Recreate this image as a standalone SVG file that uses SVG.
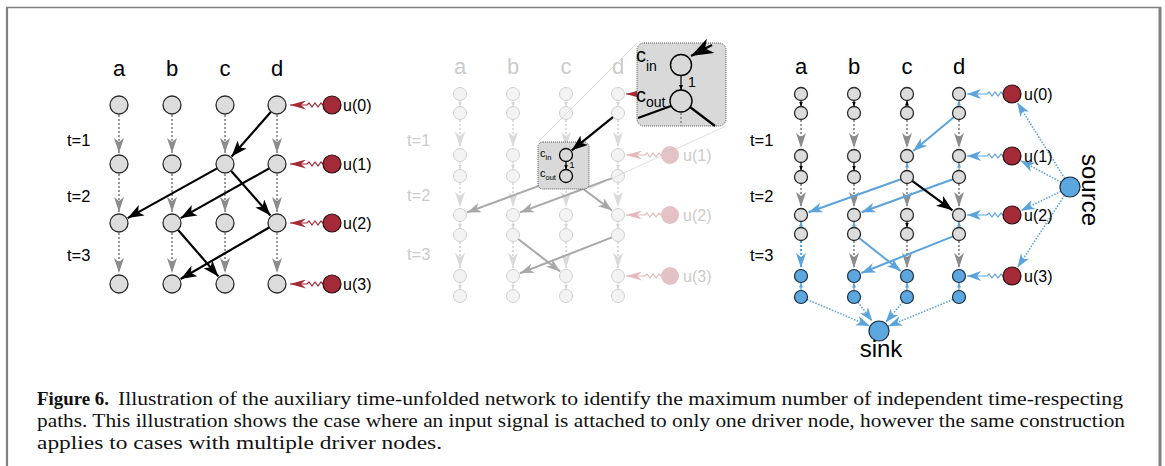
<svg xmlns="http://www.w3.org/2000/svg" width="1165" height="466" viewBox="0 0 1165 466">
<style>
.n{fill:#dcdcdc;stroke:#2b2b2b;stroke-width:1.3}
.nf{fill:#f3f3f3;stroke:#d0d0d0;stroke-width:1}
.nb{fill:#5ca7e0;stroke:#1d2f40;stroke-width:1.2}
.u{fill:#a52a37;stroke:#2a0f10;stroke-width:1.2}
.uf{fill:#e4c1c4;stroke:none}
.t{font-family:"Liberation Sans",Arial,sans-serif}
.col{font-size:22px;text-anchor:middle}
.tl{font-size:16.5px}
.ul{font-size:16px}
.fd{fill:#cbcbcb}
.dot{stroke:#9a9a9a;stroke-width:2;stroke-dasharray:2 2;fill:none}
.dotf{stroke:#dcdcdc;stroke-width:2;stroke-dasharray:2 2;fill:none}
.dotb{stroke:#5aa3dd;stroke-width:2;stroke-dasharray:2 2;fill:none}
.blk{stroke:#000;stroke-width:2.2;fill:none}
.gry{stroke:#a8a8a8;stroke-width:2;fill:none}
.blu{stroke:#5aa3dd;stroke-width:2;fill:none}
.bdot{stroke:#5aa3dd;stroke-width:1.6;stroke-dasharray:1.5 1.5;fill:none}
.wr{stroke:#a52a37;stroke-width:1.2;fill:none}
.wf{stroke:#e4b8bc;stroke-width:1.2;fill:none}
.wb{stroke:#5aa3dd;stroke-width:1.2;fill:none}
.tk{stroke:#000;stroke-width:1.2;fill:none}
.tb{stroke:#5aa3dd;stroke-width:1.2;fill:none}
.tg{stroke:#dcdcdc;stroke-width:1.2;fill:none}
.cap{font-family:"Liberation Serif","Times New Roman",serif;font-size:18px;fill:#111}
.box{fill:#d9d9d9;stroke:#555;stroke-width:1;stroke-dasharray:1 1}
</style>
<defs>
<marker id="mg" viewBox="0 0 15 10" refX="15" refY="5" markerWidth="15" markerHeight="10" markerUnits="userSpaceOnUse" orient="auto"><path d="M0,0 L15,5 L0,10 L4,5 z" fill="#8c8c8c"/></marker>
<marker id="mgf" viewBox="0 0 15 10" refX="15" refY="5" markerWidth="15" markerHeight="10" markerUnits="userSpaceOnUse" orient="auto"><path d="M0,0 L15,5 L0,10 L4,5 z" fill="#dadada"/></marker>
<marker id="mbc" viewBox="0 0 15 10" refX="15" refY="5" markerWidth="15" markerHeight="10" markerUnits="userSpaceOnUse" orient="auto"><path d="M0,0 L15,5 L0,10 L4,5 z" fill="#5aa3dd"/></marker>
<marker id="mk" viewBox="0 0 16 12" refX="16" refY="6" markerWidth="16" markerHeight="12" markerUnits="userSpaceOnUse" orient="auto"><path d="M0,0 L16,6 L0,12 L4,6 z" fill="#000"/></marker>
<marker id="mkb" viewBox="0 0 22 16" refX="22" refY="8" markerWidth="22" markerHeight="16" markerUnits="userSpaceOnUse" orient="auto"><path d="M0,0 L22,8 L0,16 L6,8 z" fill="#000"/></marker>
<marker id="mgs" viewBox="0 0 14 10" refX="14" refY="5" markerWidth="14" markerHeight="10" markerUnits="userSpaceOnUse" orient="auto"><path d="M0,0 L14,5 L0,10 L4,5 z" fill="#a8a8a8"/></marker>
<marker id="mb" viewBox="0 0 14 10" refX="14" refY="5" markerWidth="14" markerHeight="10" markerUnits="userSpaceOnUse" orient="auto"><path d="M0,0 L14,5 L0,10 L4,5 z" fill="#5aa3dd"/></marker>
<marker id="mr" viewBox="0 0 16 9" refX="16" refY="4.5" markerWidth="16" markerHeight="9" markerUnits="userSpaceOnUse" orient="auto"><path d="M0,0 L16,4.5 L0,9 L5,4.5 z" fill="#a52a37"/></marker>
<marker id="mrf" viewBox="0 0 16 9" refX="16" refY="4.5" markerWidth="16" markerHeight="9" markerUnits="userSpaceOnUse" orient="auto"><path d="M0,0 L16,4.5 L0,9 L5,4.5 z" fill="#e4b8bc"/></marker>
<marker id="mtk" viewBox="0 0 5 4" refX="5" refY="2" markerWidth="5" markerHeight="4" markerUnits="userSpaceOnUse" orient="auto"><path d="M0,0 L5,2 L0,4 z" fill="#000"/></marker>
<marker id="mtb" viewBox="0 0 5 4" refX="5" refY="2" markerWidth="5" markerHeight="4" markerUnits="userSpaceOnUse" orient="auto"><path d="M0,0 L5,2 L0,4 z" fill="#5aa3dd"/></marker>
<marker id="mtg" viewBox="0 0 5 4" refX="5" refY="2" markerWidth="5" markerHeight="4" markerUnits="userSpaceOnUse" orient="auto"><path d="M0,0 L5,2 L0,4 z" fill="#d6d6d6"/></marker>
</defs>
<rect width="1165" height="466" fill="#fff"/>
<g id="frame" fill="none" stroke="#808080">
<line x1="6" y1="7.5" x2="1161" y2="7.5" stroke-width="1.4"/>
<line x1="7" y1="7" x2="7" y2="466" stroke-width="2.2"/>
<line x1="1160" y1="7" x2="1160" y2="466" stroke-width="3"/>
</g>

<!-- ============ LEFT PANEL ============ -->
<g id="left-labels" class="t">
<text class="col" x="119" y="76">a</text><text class="col" x="172" y="76">b</text><text class="col" x="225" y="76">c</text><text class="col" x="277" y="76">d</text>
<text class="tl" x="67" y="146">t=1</text><text class="tl" x="67" y="202">t=2</text><text class="tl" x="67" y="261">t=3</text>
</g>
<g id="left-connectors">
<g class="dot" marker-end="url(#mg)">
<path d="M119,115 V153"/><path d="M119,174 V212"/><path d="M119,233 V273"/>
<path d="M172,115 V153"/><path d="M172,174 V212"/><path d="M172,233 V273"/>
<path d="M225,115 V153"/><path d="M225,174 V212"/><path d="M225,233 V273"/>
<path d="M277,115 V153"/><path d="M277,174 V212"/><path d="M277,233 V273"/>
</g>
<g class="blk" marker-end="url(#mk)">
<path d="M271,111.8 L231.6,156.5"/>
<path d="M217.1,168.4 L127.7,218.1"/>
<path d="M269.2,168.4 L180.7,218.1"/>
<path d="M231,170.8 L270.4,215.5"/>
<path d="M177.9,229.8 L218.4,276.4"/>
<path d="M269.2,227.5 L180.6,279"/>
</g>
<g class="wr" marker-end="url(#mr)">
<path d="M323,105 l-2,-2 l-3,4 l-3,-4 l-3,4 l-3,-4 l-2,2 l-17,0"/>
<path d="M323,164 l-2,-2 l-3,4 l-3,-4 l-3,4 l-3,-4 l-2,2 l-17,0"/>
<path d="M323,223 l-2,-2 l-3,4 l-3,-4 l-3,4 l-3,-4 l-2,2 l-17,0"/>
<path d="M323,284 l-2,-2 l-3,4 l-3,-4 l-3,4 l-3,-4 l-2,2 l-17,0"/>
</g>
</g>
<g id="left-nodes" class="n">
<g id="L-a0"><circle cx="119" cy="105" r="9"/></g><g id="L-b0"><circle cx="172" cy="105" r="9"/></g><g id="L-c0"><circle cx="225" cy="105" r="9"/></g><g id="L-d0"><circle cx="277" cy="105" r="9"/></g>
<g id="L-a1"><circle cx="119" cy="164" r="9"/></g><g id="L-b1"><circle cx="172" cy="164" r="9"/></g><g id="L-c1"><circle cx="225" cy="164" r="9"/></g><g id="L-d1"><circle cx="277" cy="164" r="9"/></g>
<g id="L-a2"><circle cx="119" cy="223" r="9"/></g><g id="L-b2"><circle cx="172" cy="223" r="9"/></g><g id="L-c2"><circle cx="225" cy="223" r="9"/></g><g id="L-d2"><circle cx="277" cy="223" r="9"/></g>
<g id="L-a3"><circle cx="119" cy="284" r="9"/></g><g id="L-b3"><circle cx="172" cy="284" r="9"/></g><g id="L-c3"><circle cx="225" cy="284" r="9"/></g><g id="L-d3"><circle cx="277" cy="284" r="9"/></g>
</g>
<g id="left-inputs">
<g id="L-u0"><circle class="u" cx="332" cy="105" r="9"/><text class="t ul" x="343" y="111">u(0)</text></g>
<g id="L-u1"><circle class="u" cx="332" cy="164" r="9"/><text class="t ul" x="343" y="170">u(1)</text></g>
<g id="L-u2"><circle class="u" cx="332" cy="223" r="9"/><text class="t ul" x="343" y="229">u(2)</text></g>
<g id="L-u3"><circle class="u" cx="332" cy="284" r="9"/><text class="t ul" x="343" y="290">u(3)</text></g>
</g>

<!-- ============ MIDDLE PANEL ============ -->
<g id="mid-labels" class="t fd">
<text class="col" x="460" y="74">a</text><text class="col" x="513" y="74">b</text><text class="col" x="566" y="74">c</text><text class="col" x="618" y="74">d</text>
<text class="tl" x="407" y="146">t=1</text><text class="tl" x="407" y="201">t=2</text><text class="tl" x="407" y="260">t=3</text>
</g>
<g id="mid-connectors">
<g class="dotf" marker-end="url(#mgf)">
<path d="M460,120 V147"/><path d="M460,183 V207"/><path d="M460,242 V268"/>
<path d="M513,120 V147"/><path d="M513,183 V207"/><path d="M513,242 V268"/>
<path d="M566,120 V147"/><path d="M566,183 V207"/><path d="M566,242 V268"/>
<path d="M618,120 V147"/><path d="M618,183 V207"/><path d="M618,242 V268"/>
</g>
<g class="tg" marker-end="url(#mtg)">
<path d="M460,100.5 V106.5"/><path d="M513,100.5 V106.5"/><path d="M566,100.5 V106.5"/><path d="M618,100.5 V106.5"/>
<path d="M460,161.5 V169.5"/><path d="M513,161.5 V169.5"/><path d="M618,161.5 V169.5"/>
<path d="M460,221.5 V228.5"/><path d="M513,221.5 V228.5"/><path d="M566,221.5 V228.5"/><path d="M618,221.5 V228.5"/>
<path d="M460,282.5 V289.5"/><path d="M513,282.5 V289.5"/><path d="M566,282.5 V289.5"/><path d="M618,282.5 V289.5"/>
</g>
<g class="gry" marker-end="url(#mgs)">
<path d="M559.9,178.2 L467,212.4"/>
<path d="M611.9,178.3 L520,212.4"/>
<path d="M571.2,179.9 L612,210.5"/>
<path d="M518.1,239 L560.1,271.4"/>
<path d="M611.9,237.4 L520,273.3"/>
</g>
<g class="wf" marker-end="url(#mrf)">
<path d="M661,155 l-2,-2 l-3,4 l-3,-4 l-3,4 l-3,-4 l-2,2 l-19,0"/>
<path d="M661,215 l-2,-2 l-3,4 l-3,-4 l-3,4 l-3,-4 l-2,2 l-19,0"/>
<path d="M661,276 l-2,-2 l-3,4 l-3,-4 l-3,4 l-3,-4 l-2,2 l-19,0"/>
</g>
<path class="wr" marker-end="url(#mr)" d="M661,94 l-2,-2 l-3,4 l-3,-4 l-3,4 l-3,-4 l-2,2 l-19,0"/>
</g>
<g id="mid-nodes" class="nf">
<g id="M-a0"><circle cx="460" cy="94" r="6.5"/><circle cx="460" cy="113" r="6.5"/></g>
<g id="M-b0"><circle cx="513" cy="94" r="6.5"/><circle cx="513" cy="113" r="6.5"/></g>
<g id="M-c0"><circle cx="566" cy="94" r="6.5"/><circle cx="566" cy="113" r="6.5"/></g>
<g id="M-d0"><circle cx="618" cy="94" r="6.5"/><circle cx="618" cy="113" r="6.5"/></g>
<g id="M-a1"><circle cx="460" cy="155" r="6.5"/><circle cx="460" cy="176" r="6.5"/></g>
<g id="M-b1"><circle cx="513" cy="155" r="6.5"/><circle cx="513" cy="176" r="6.5"/></g>
<g id="M-d1"><circle cx="618" cy="155" r="6.5"/><circle cx="618" cy="176" r="6.5"/></g>
<g id="M-a2"><circle cx="460" cy="215" r="6.5"/><circle cx="460" cy="235" r="6.5"/></g>
<g id="M-b2"><circle cx="513" cy="215" r="6.5"/><circle cx="513" cy="235" r="6.5"/></g>
<g id="M-c2"><circle cx="566" cy="215" r="6.5"/><circle cx="566" cy="235" r="6.5"/></g>
<g id="M-d2"><circle cx="618" cy="215" r="6.5"/><circle cx="618" cy="235" r="6.5"/></g>
<g id="M-a3"><circle cx="460" cy="276" r="6.5"/><circle cx="460" cy="296" r="6.5"/></g>
<g id="M-b3"><circle cx="513" cy="276" r="6.5"/><circle cx="513" cy="296" r="6.5"/></g>
<g id="M-c3"><circle cx="566" cy="276" r="6.5"/><circle cx="566" cy="296" r="6.5"/></g>
<g id="M-d3"><circle cx="618" cy="276" r="6.5"/><circle cx="618" cy="296" r="6.5"/></g>
</g>
<g id="mid-inputs">
<g id="M-u1"><circle class="uf" cx="670" cy="155" r="9"/><text class="t ul fd" x="683" y="161">u(1)</text></g>
<g id="M-u2"><circle class="uf" cx="670" cy="215" r="9"/><text class="t ul fd" x="683" y="221">u(2)</text></g>
<g id="M-u3"><circle class="uf" cx="670" cy="276" r="9"/><text class="t ul fd" x="683" y="282">u(3)</text></g>
</g>
<g id="zoom-lines" stroke="#d0d0d0" stroke-width="0.7" fill="none">
<line x1="538" y1="142" x2="637" y2="43"/>
<line x1="589" y1="189" x2="726" y2="126"/>
</g>
<g id="M-c1-inset">
<rect class="box" x="538" y="142" width="51" height="47" rx="5"/>
<circle cx="566" cy="155" r="6.5" fill="none" stroke="#000" stroke-width="1.3"/>
<circle cx="566" cy="176" r="6.5" fill="none" stroke="#000" stroke-width="1.3"/>
<path class="tk" d="M566,161.5 V169.5" marker-end="url(#mtk)"/>
<text class="t" x="540" y="157" font-size="11">c<tspan font-size="7.5" dy="3">in</tspan></text>
<text class="t" x="540" y="177" font-size="11">c<tspan font-size="7.5" dy="3">out</tspan></text>
<text class="t" x="569.5" y="168" font-size="9">1</text>
</g>
<path id="M-d0-c1" class="blk" marker-end="url(#mk)" d="M612.9,117.1 L571.8,150.3"/>
<g id="big-inset">
<rect class="box" x="637" y="43" width="89" height="83" rx="7"/>
<path class="dot" d="M681,113 V126"/>
<path class="blk" d="M671,106 L638,118 M690,107 L715,126"/>
<path class="blk" d="M712,45 L691,56" marker-end="url(#mkb)"/>
<circle cx="681" cy="65" r="10.5" fill="none" stroke="#000" stroke-width="1.4"/>
<circle cx="681" cy="101" r="11" fill="none" stroke="#000" stroke-width="1.4"/>
<path class="tk" d="M681,75.5 V90" marker-end="url(#mtk)"/>
<text class="t" x="688" y="87" font-size="14">1</text>
<text class="t" x="636" y="62" font-size="20">c<tspan font-size="14" dy="9">in</tspan></text>
<text class="t" x="636" y="102" font-size="20">c<tspan font-size="14" dy="5">out</tspan></text>
</g>

<!-- ============ RIGHT PANEL ============ -->
<g id="right-labels" class="t">
<text class="col" x="801" y="74">a</text><text class="col" x="854" y="74">b</text><text class="col" x="907" y="74">c</text><text class="col" x="959" y="74">d</text>
<text class="tl" x="750" y="146">t=1</text><text class="tl" x="750" y="202">t=2</text><text class="tl" x="750" y="261">t=3</text>
</g>
<g id="right-connectors">
<g class="dot" marker-end="url(#mg)">
<path d="M801,120 V148"/><path d="M801,184 V207"/>
<path d="M854,120 V148"/><path d="M854,184 V207"/><path d="M854,241 V268"/>
<path d="M907,120 V148"/><path d="M907,184 V207"/><path d="M907,241 V268"/>
<path d="M959,120 V148"/><path d="M959,184 V207"/><path d="M959,241 V268"/>
</g>
<path class="dotb" marker-end="url(#mbc)" d="M801,241 V268"/>
<g class="tk" marker-end="url(#mtk)">
<path d="M801,100.5 V106.5"/><path d="M854,100.5 V106.5"/><path d="M907,106.5 V100.5"/>
<path d="M801,162.5 V170.5"/><path d="M854,162.5 V170.5"/>
<path d="M907,221.5 V227.5"/>
</g>
<g class="tb" marker-end="url(#mtb)">
<path d="M959,106.5 V100.5"/>
<path d="M907,170.5 V162.5"/><path d="M959,170.5 V162.5"/>
<path d="M801,227.5 V221.5"/><path d="M854,227.5 V221.5"/><path d="M959,227.5 V221.5"/>
<path d="M801,290.5 V282.5"/><path d="M854,290.5 V282.5"/><path d="M907,290.5 V282.5"/><path d="M959,290.5 V282.5"/>
</g>
<g class="blu" marker-end="url(#mb)">
<path d="M954,117.1 L913.2,150.9"/>
<path d="M900.9,179.2 L808.5,212.3"/>
<path d="M952.9,179.2 L861.5,212.3"/>
<path d="M859.1,238 L900.7,271"/>
<path d="M953,236.4 L861.4,273"/>
</g>
<path class="blk" marker-end="url(#mk)" d="M912.2,180.8 L952.5,210.3"/>
<g class="wb" marker-end="url(#mb)">
<path d="M1003,94 l-2,-2 l-3,4 l-3,-4 l-3,4 l-3,-4 l-2,2 l-20,0"/>
<path d="M1003,156 l-2,-2 l-3,4 l-3,-4 l-3,4 l-3,-4 l-2,2 l-20,0"/>
<path d="M1003,215 l-2,-2 l-3,4 l-3,-4 l-3,4 l-3,-4 l-2,2 l-20,0"/>
<path d="M1003,276 l-2,-2 l-3,4 l-3,-4 l-3,4 l-3,-4 l-2,2 l-20,0"/>
</g>
<g class="bdot" marker-end="url(#mb)">
<path d="M1064.7,178.5 L1017.3,102.5"/>
<path d="M1061.2,182.3 L1020.8,160.7"/>
<path d="M1061,191.3 L1021,210.6"/>
<path d="M1064.5,195.4 L1017.5,267.6"/>
<path d="M807,299.5 L869.8,326.1"/>
<path d="M857.9,302.2 L872.4,321.3"/>
<path d="M902.8,302 L885.5,322.4"/>
<path d="M953,299.5 L888.2,326.2"/>
</g>
</g>
<g id="right-nodes">
<g id="R-a0" class="n"><circle cx="801" cy="94" r="6.5"/><circle cx="801" cy="113" r="6.5"/></g>
<g id="R-b0" class="n"><circle cx="854" cy="94" r="6.5"/><circle cx="854" cy="113" r="6.5"/></g>
<g id="R-c0" class="n"><circle cx="907" cy="94" r="6.5"/><circle cx="907" cy="113" r="6.5"/></g>
<g id="R-d0" class="n"><circle cx="959" cy="94" r="6.5"/><circle cx="959" cy="113" r="6.5"/></g>
<g id="R-a1" class="n"><circle cx="801" cy="156" r="6.5"/><circle cx="801" cy="177" r="6.5"/></g>
<g id="R-b1" class="n"><circle cx="854" cy="156" r="6.5"/><circle cx="854" cy="177" r="6.5"/></g>
<g id="R-c1" class="n"><circle cx="907" cy="156" r="6.5"/><circle cx="907" cy="177" r="6.5"/></g>
<g id="R-d1" class="n"><circle cx="959" cy="156" r="6.5"/><circle cx="959" cy="177" r="6.5"/></g>
<g id="R-a2" class="n"><circle cx="801" cy="215" r="6.5"/><circle cx="801" cy="234" r="6.5"/></g>
<g id="R-b2" class="n"><circle cx="854" cy="215" r="6.5"/><circle cx="854" cy="234" r="6.5"/></g>
<g id="R-c2" class="n"><circle cx="907" cy="215" r="6.5"/><circle cx="907" cy="234" r="6.5"/></g>
<g id="R-d2" class="n"><circle cx="959" cy="215" r="6.5"/><circle cx="959" cy="234" r="6.5"/></g>
<g id="R-a3" class="nb"><circle cx="801" cy="276" r="6.5"/><circle cx="801" cy="297" r="6.5"/></g>
<g id="R-b3" class="nb"><circle cx="854" cy="276" r="6.5"/><circle cx="854" cy="297" r="6.5"/></g>
<g id="R-c3" class="nb"><circle cx="907" cy="276" r="6.5"/><circle cx="907" cy="297" r="6.5"/></g>
<g id="R-d3" class="nb"><circle cx="959" cy="276" r="6.5"/><circle cx="959" cy="297" r="6.5"/></g>
</g>
<g id="right-inputs">
<g id="R-u0"><circle class="u" cx="1012" cy="94" r="9"/><text class="t ul" x="1024" y="100">u(0)</text></g>
<g id="R-u1"><circle class="u" cx="1012" cy="156" r="9"/><text class="t ul" x="1024" y="162">u(1)</text></g>
<g id="R-u2"><circle class="u" cx="1012" cy="215" r="9"/><text class="t ul" x="1024" y="221">u(2)</text></g>
<g id="R-u3"><circle class="u" cx="1012" cy="276" r="9"/><text class="t ul" x="1024" y="282">u(3)</text></g>
</g>
<g id="source"><circle class="nb" cx="1070" cy="187" r="10"/><text class="t" font-size="24" text-anchor="middle" transform="translate(1082,190) rotate(90)">source</text></g>
<g id="sink"><circle class="nb" cx="879" cy="331" r="10"/><text class="t" font-size="24" text-anchor="middle" x="881" y="357">sink</text></g>

<!-- ============ CAPTION ============ -->
<g id="caption" class="cap">
<text x="37" y="405" font-weight="bold" textLength="72" lengthAdjust="spacingAndGlyphs">Figure 6.</text>
<text x="118" y="405" textLength="1005" lengthAdjust="spacingAndGlyphs">Illustration of the auxiliary time-unfolded network to identify the maximum number of independent time-respecting</text>
<text x="37" y="427" textLength="1088" lengthAdjust="spacingAndGlyphs">paths. This illustration shows the case where an input signal is attached to only one driver node, however the same construction</text>
<text x="37" y="449" textLength="405" lengthAdjust="spacingAndGlyphs">applies to cases with multiple driver nodes.</text>
</g>
</svg>
